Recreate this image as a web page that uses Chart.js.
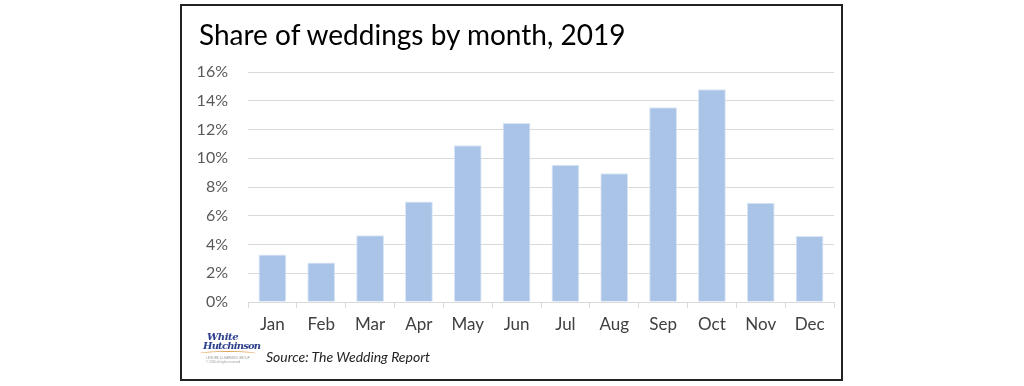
<!DOCTYPE html>
<html>
<head>
<meta charset="utf-8">
<script src="https://cdn.jsdelivr.net/npm/chart.js@4.4.1/dist/chart.umd.min.js"></script>
<style>
  html, body { margin: 0; padding: 0; background: #fff; }
  #wrap { position: relative; width: 1024px; height: 386px; overflow: hidden; }
  #chart { position: absolute; left: 0; top: 0; }
  #frame { position: absolute; left: 180px; top: 4px; width: 659px; height: 373px; border: 2px solid #222; pointer-events: none; }
  #title { position: absolute; left: 199px; top: 18px; font: 28px/32px Lato, sans-serif; color: #000; white-space: nowrap; }
  #source { position: absolute; left: 266px; top: 348px; font: italic 14px Lato, sans-serif; color: #222; }
  #logo { position: absolute; left: 200px; top: 332px; width: 60px; font-family: "DejaVu Serif", serif; font-style: italic; font-weight: bold; color: #2b3f8c; line-height: 9px; }
  #logo .w { font-size: 10px; padding-left: 7px; letter-spacing: -0.4px; }
  #logo .h { font-size: 10px; padding-left: 3px; letter-spacing: -0.8px; }
  #logo .sw { height: 4px; margin: 1px 0 0 0; border-top: 1.5px solid #e0a55a; border-radius: 50%; width: 56px; }
  #logo .t { font: 3px sans-serif; color: #999; font-style: normal; font-weight: normal; line-height: 4px; padding-left: 6px; }
</style>
</head>
<body>
<div id="wrap">
  <canvas id="chart" width="1024" height="386"></canvas>
  <div id="frame"></div>
  <div id="title">Share of weddings by month, 2019</div>
  <div id="logo"><div class="w">White</div><div class="h">Hutchinson</div><div class="sw"></div><div class="t">LEISURE &amp; LEARNING GROUP<br>© 2020 all rights reserved</div></div>
  <div id="source">Source: The Wedding Report</div>
</div>
<script>
const months = ['Jan', 'Feb', 'Mar', 'Apr', 'May', 'Jun', 'Jul', 'Aug', 'Sep', 'Oct', 'Nov', 'Dec'];
const shares = [3.3, 2.75, 4.65, 7.0, 10.9, 12.45, 9.55, 8.95, 13.55, 14.8, 6.9, 4.6];
const yTicks = [0, 2, 4, 6, 8, 10, 12, 14, 16];

const ctx = document.getElementById('chart').getContext('2d');
const chart = new Chart(ctx, {
	type: 'bar',
	data: {
		labels: months,
		datasets: [{
			label: 'Share of weddings',
			data: shares,
			backgroundColor: '#a9c4e7',
			borderColor: '#dbe6f5',
			borderWidth: 1,
			barPercentage: 0.57,
			categoryPercentage: 1
		}]
	},
	options: {
		responsive: false,
		animation: false,
		layout: {
			padding: { left: 180, right: 190, top: 72, bottom: 44 }
		},
		plugins: {
			legend: { display: false },
			tooltip: { enabled: false }
		},
		scales: {
			x: {
				afterFit: (s) => { s.height = 40; },
				grid: {
					display: true,
					drawOnChartArea: false,
					drawTicks: true,
					tickLength: 6,
					color: '#d9d9d9',
					offset: true
				},
				border: { color: '#d9d9d9' },
				ticks: {
					color: '#404040',
					padding: 6,
					font: { family: 'Lato', size: 17 }
				}
			},
			y: {
				min: 0,
				max: 16,
				afterFit: (s) => { s.width = 68; },
				afterBuildTicks: (s) => { s.ticks = yTicks.map(v => ({ value: v })); },
				grid: {
					color: '#d9d9d9',
					drawTicks: false
				},
				border: { display: false },
				ticks: {
					padding: 20,
					color: '#595959',
					font: { family: 'Lato', size: 16 },
					callback: (v) => v + '%'
				}
			}
		}
	}
});
</script>
</body>
</html>
